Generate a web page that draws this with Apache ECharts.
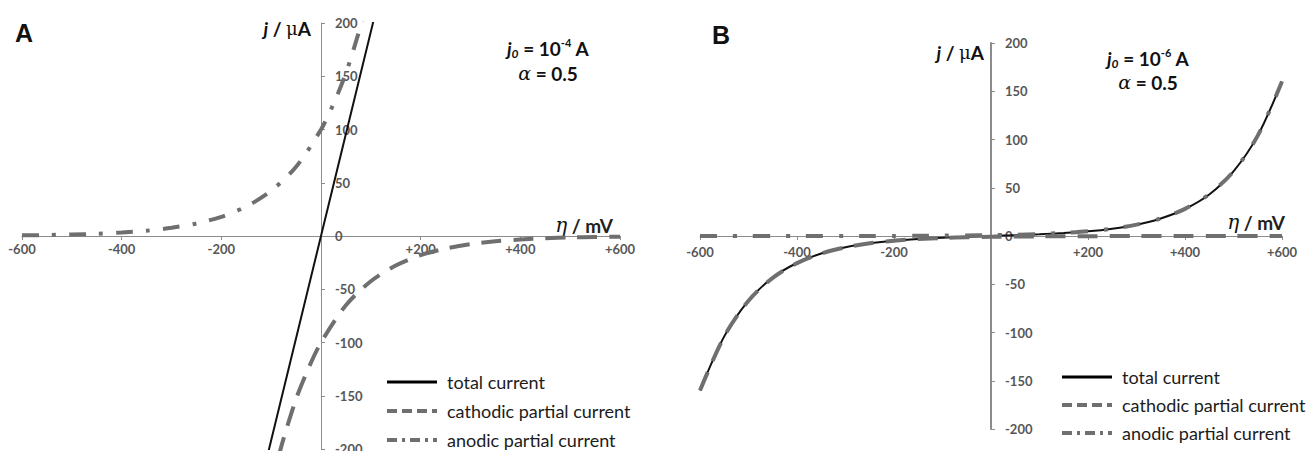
<!DOCTYPE html>
<html><head><meta charset="utf-8">
<script src="https://cdn.jsdelivr.net/npm/echarts@6/dist/echarts.min.js"></script>
<style>html,body{margin:0;padding:0;background:#fff}#c{width:1308px;height:451px}</style>
</head><body><div id="c"></div>
<script>
// ---- tick labels ----
const xTicks = [-600, -400, -200, 0, 200, 400, 600];
const xTickLabels = ['-600', '-400', '-200', '', '+200', '+400', '+600'];
const yTicks = [-200, -150, -100, -50, 0, 50, 100, 150, 200];
const yTickLabels = ['-200', '-150', '-100', '-50', '0', '50', '100', '150', '200'];
const seriesNames = ['total current', 'cathodic partial current', 'anodic partial current'];

// ---- Panel A (j0 = 1e-4 A) ----
const etaTotalA = [-110, 0, 110];
const totalA = [-211, 0, 211];
const etaAnodicA = [-600, -550, -500, -450, -400, -350, -300, -250, -200, -150, -100, -50, 0, 25, 50, 75, 85];
const anodicA = [0.6, 0.9, 1.4, 2.1, 3.3, 5.0, 7.7, 11.8, 18, 27.7, 42.5, 65, 100, 124, 153, 190, 207];
const etaCathodicA = [-85, -75, -50, -25, 0, 50, 100, 150, 200, 250, 300, 350, 400, 450, 500, 550, 600];
const cathodicA = [-207, -190, -153, -124, -100, -65, -42.5, -27.7, -18, -11.8, -7.7, -5.0, -3.3, -2.1, -1.4, -0.9, -0.6];

// ---- Panel B (j0 = 1e-6 A) ----
const etaB = [-600, -550, -500, -450, -400, -350, -300, -250, -200, -150, -100, -50, 0, 50, 100, 150, 200, 250, 300, 350, 400, 450, 500, 550, 600];
const totalB = [-160, -104, -67, -43, -28, -18.2, -11.7, -7.6, -4.8, -3.0, -1.7, -0.8, 0, 0.8, 1.7, 3.0, 4.8, 7.6, 11.7, 18.2, 28, 43, 67, 104, 160];
const cathodicB = [-160, -104, -67, -43.4, -28.1, -18.2, -11.8, -7.6, -4.9, -3.2, -2.1, -1.3, -0.9, -0.6, -0.4, -0.3, -0.2, -0.1, -0.1, 0, 0, 0, 0, 0, 0];
const anodicB = [0, 0, 0, 0, 0, 0, 0, 0.1, 0.1, 0.2, 0.4, 0.6, 0.9, 1.3, 2.1, 3.2, 4.9, 7.6, 11.8, 18.2, 28.1, 43.4, 67, 104, 160];

const pairs = (xs, ys) => xs.map((x, i) => [x, ys[i]]);

const GRAY = '#6f6f6f';
const AXIS = '#8c8c8c';
const LABEL = '#575757';
const SANS = 'Lato';
const X_MIN = -600, X_MAX = 600, Y_MIN = -200, Y_MAX = 200;

const gridA = { left: 22, top: 23, width: 598, height: 426, outerBoundsMode: 'none', containLabel: false };
const gridB = { left: 700, top: 43, width: 582, height: 386, outerBoundsMode: 'none', containLabel: false };

// axes cross at zero: shift each axis from its grid edge to the other axis' zero
function xAx(gi, grid, margin) {
  const off = -grid.height * (0 - Y_MIN) / (Y_MAX - Y_MIN);
  return {
    type: 'value', gridIndex: gi, min: X_MIN, max: X_MAX, interval: 200, position: 'bottom', offset: off,
    axisLine: { onZero: false, lineStyle: { color: AXIS, width: 1 } },
    axisTick: { show: true, length: 4, lineStyle: { color: AXIS } },
    splitLine: { show: false },
    axisLabel: {
      formatter: v => { const k = xTicks.indexOf(v); return k >= 0 ? xTickLabels[k] : ''; },
      color: LABEL, fontWeight: 'bold', fontSize: 13, fontFamily: SANS, margin: margin
    }
  };
}
function yAx(gi, grid, w) {
  const off = -grid.width * (0 - X_MIN) / (X_MAX - X_MIN);
  return {
    type: 'value', gridIndex: gi, min: Y_MIN, max: Y_MAX, interval: 50, position: 'left', offset: off,
    axisLine: { onZero: false, lineStyle: { color: AXIS, width: w } },
    axisTick: { show: true, inside: true, length: 4, lineStyle: { color: AXIS } },
    splitLine: { show: false },
    axisLabel: {
      inside: true, margin: 14,
      formatter: v => { const k = yTicks.indexOf(v); return k >= 0 ? yTickLabels[k] : ''; },
      color: LABEL, fontWeight: 'bold', fontSize: 13, fontFamily: SANS
    }
  };
}

const solid = { color: '#111', width: 2, type: 'solid' };
const dashed = { color: GRAY, width: 4, type: [20, 12] };
const dashDotA = { color: GRAY, width: 4, type: [17, 13, 4, 13] };
const dashDotB = { color: GRAY, width: 4, type: [17, 16, 4, 16] };

function line(name, gi, data, ls, z, smooth) {
  return { name, type: 'line', xAxisIndex: gi, yAxisIndex: gi, data, symbol: 'none', showSymbol: false,
    lineStyle: ls, itemStyle: { color: ls.color }, smooth: smooth, clip: true, z, animation: false };
}

const legendData = [
  { name: seriesNames[0], lineStyle: { type: 'solid', width: 3, color: '#000' } },
  { name: seriesNames[1], lineStyle: { type: [10, 5], width: 4, color: GRAY } },
  { name: seriesNames[2], lineStyle: { type: [10, 5, 3, 5], width: 4, color: GRAY } }
];
function legendAt(left, top, gap) {
  return { left, top, height: 120, orient: 'vertical', itemWidth: 50, itemHeight: 14, itemGap: gap, data: legendData,
    selectedMode: false, padding: 0,
    itemStyle: { color: 'rgba(0,0,0,0)', borderWidth: 0, opacity: 0 },
    textStyle: { fontFamily: SANS, fontSize: 18, color: '#1c1c1c', lineHeight: 20, padding: [0, 0, 0, 5] } };
}

const boldTxt = { fontFamily: SANS, fontSize: 19, fontWeight: 'bold', fill: '#111', lineHeight: 22 };
const richJ0 = {
  j: Object.assign({}, boldTxt, { fontStyle: 'italic' }),
  sub: { fontFamily: SANS, fontSize: 12, fontWeight: 'bold', fontStyle: 'italic', fill: '#111', lineHeight: 13, verticalAlign: 'bottom' },
  b: boldTxt,
  sup: { fontFamily: SANS, fontSize: 11, fontWeight: 'bold', fill: '#111', lineHeight: 12, verticalAlign: 'top' },
  a: { fontFamily: 'DejaVu Serif', fontSize: 19, fontStyle: 'italic', fill: '#111', lineHeight: 22 }
};
function annot(cx, y1, y2, exp) {
  return [
    { type: 'text', x: cx, y: y1, style: { text: '{j|j}{sub|0}{b| = 10}{sup|' + exp + '}{b| A}', rich: richJ0, align: 'center', verticalAlign: 'middle' } },
    { type: 'text', x: cx, y: y2, style: { text: '{a|α}{b| = 0.5}', rich: richJ0, align: 'center', verticalAlign: 'middle' } }
  ];
}
const richAxis = {
  j: { fontFamily: SANS, fontSize: 19, fontWeight: 'bold', fontStyle: 'italic', fill: '#111' },
  b: { fontFamily: SANS, fontSize: 19, fontWeight: 'bold', fill: '#111' },
  mu: { fontFamily: 'DejaVu Serif', fontSize: 18, fontWeight: 'normal', fill: '#111' },
  eta: { fontFamily: 'DejaVu Serif', fontSize: 20, fontStyle: 'italic', fill: '#111' },
  n: { fontFamily: SANS, fontSize: 19, fontWeight: 'bold', fill: '#222' }
};
function yName(rx, y) {
  return { type: 'text', x: rx, y, style: { text: '{j|j}{b| / }{mu|μ}{b|A}', rich: richAxis, align: 'right', verticalAlign: 'middle' } };
}
function xName(rx, y) {
  return { type: 'text', x: rx, y, style: { text: '{eta|η}{n| / mV}', rich: richAxis, align: 'right', verticalAlign: 'middle' } };
}
function panelLetter(x, y, t) {
  return { type: 'text', x, y, style: { text: t, fontFamily: 'Liberation Sans', fontSize: 25, fontWeight: 'bold', fill: '#111', verticalAlign: 'middle' } };
}

const chart = echarts.init(document.getElementById('c'), null, { renderer: 'svg', width: 1308, height: 451 });
chart.setOption({
  animation: false,
  backgroundColor: '#fff',
  grid: [gridA, gridB],
  xAxis: [xAx(0, gridA, 6), xAx(1, gridB, 9)],
  yAxis: [yAx(0, gridA, 1), yAx(1, gridB, 2)],
  legend: [legendAt(385, 372, 9), legendAt(1060, 367, 8)],
  series: [
    line(seriesNames[0], 0, pairs(etaTotalA, totalA), solid, 3, false),
    line(seriesNames[1], 0, pairs(etaCathodicA, cathodicA), dashed, 4, 0.3),
    line(seriesNames[2], 0, pairs(etaAnodicA, anodicA), dashDotA, 4, 0.3),
    line(seriesNames[0], 1, pairs(etaB, totalB), solid, 3, 0.3),
    line(seriesNames[1], 1, pairs(etaB, cathodicB), dashed, 4, 0.3),
    line(seriesNames[2], 1, pairs(etaB, anodicB), dashDotB, 4, 0.3)
  ],
  graphic: [
    panelLetter(15, 33, 'A'),
    panelLetter(712, 35, 'B'),
    yName(311, 28),
    yName(984, 52),
    xName(613, 225),
    xName(1285, 222),
    ...annot(548, 48, 73, '-4'),
    ...annot(1148, 58, 82, '-6')
  ]
});
</script>
</body></html>
